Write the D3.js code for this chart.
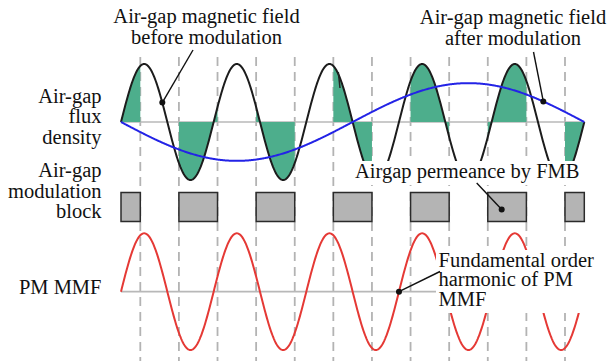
<!DOCTYPE html>
<html><head><meta charset="utf-8">
<script src="https://cdn.jsdelivr.net/npm/d3@7"></script>
<style>html,body{margin:0;padding:0;background:#fff}svg{display:block}</style>
</head><body><svg id="c" width="611" height="363"></svg>
<script>
// ---- data ----
// modulation block (FMB) centres in slot-pitch units, block width as fraction of pitch
const blockCenters = [0, 1, 2, 3, 4, 5, 6];
const blockWidth = 0.5;
// air-gap field before modulation: cycles across span, amplitude
const fieldCycles = 5, fieldAmp = 1.0;
// air-gap permeance (blue): cycles, amplitude (negative start)
const permCycles = 1, permAmp = -0.67;
// PM MMF fundamental
const mmfCycles = 5, mmfAmp = 1.0;
const rowLabels = [["Air-gap", "flux", "density"], ["Air-gap", "modulation", "block"], ["PM MMF"]];

const FONT = "'Liberation Serif', 'Times New Roman', 'DejaVu Serif', serif";
const svg = d3.select("#c");
const span = [0, 6];
const x = d3.scaleLinear().domain(span).range([121, 584.3]);
const yF = d3.scaleLinear().domain([-1, 1]).range([180, 64]);
const yM = d3.scaleLinear().domain([-1, 1]).range([350, 233.3]);
const wave = (cyc, amp) => t => amp * Math.sin(2 * Math.PI * cyc * (t - span[0]) / (span[1] - span[0]));
const fField = wave(fieldCycles, fieldAmp), fPerm = wave(permCycles, permAmp), fMmf = wave(mmfCycles, mmfAmp);
const samples = (a, b, n) => d3.range(n + 1).map(i => a + (b - a) * i / n);

// dashed guides at block edges
const edges = [];
blockCenters.forEach(c => { [c - blockWidth / 2, c + blockWidth / 2].forEach(e => { if (e >= span[0] - 1e-9 && e <= span[1] + 1e-9) edges.push(e); }); });
svg.append("g").selectAll("line").data(edges).join("line")
  .attr("x1", d => x(d)).attr("x2", d => x(d)).attr("y1", 57).attr("y2", 361)
  .attr("stroke", "#b3b3b3").attr("stroke-width", 1.8).attr("stroke-dasharray", "9,6");

// zero lines
[yF, yM].forEach(s => svg.append("line").attr("x1", x(span[0])).attr("x2", x(span[1]))
  .attr("y1", s(0)).attr("y2", s(0)).attr("stroke", "#b8b8b8").attr("stroke-width", 1.6));

// green modulated areas
const area = d3.area().x(d => x(d)).y0(yF(0)).y1(d => yF(fField(d)));
blockCenters.forEach(c => {
  const a = Math.max(span[0], c - blockWidth / 2), b = Math.min(span[1], c + blockWidth / 2);
  svg.append("path").attr("d", area(samples(a, b, 60))).attr("fill", "#4dae8c");
});

const line = (f, s) => d3.line().x(d => x(d)).y(d => s(f(d)));
const pts = samples(span[0], span[1], 600);
svg.append("path").attr("d", line(fField, yF)(pts)).attr("fill", "none").attr("stroke", "#1c1c1c").attr("stroke-width", 2);
svg.append("path").attr("d", line(fPerm, yF)(pts)).attr("fill", "none").attr("stroke", "#2323e6").attr("stroke-width", 2);
svg.append("path").attr("d", line(fMmf, yM)(pts)).attr("fill", "none").attr("stroke", "#e53935").attr("stroke-width", 2);

// blocks
svg.append("g").selectAll("rect").data(blockCenters).join("rect")
  .attr("x", d => x(Math.max(span[0], d - blockWidth / 2)))
  .attr("width", d => x(Math.min(span[1], d + blockWidth / 2)) - x(Math.max(span[0], d - blockWidth / 2)))
  .attr("y", 192.5).attr("height", 29)
  .attr("fill", "#b4b4b4").attr("stroke", "#2b2b2b").attr("stroke-width", 1.5);

// stray mark
svg.append("line").attr("x1", 338.3).attr("y1", 72).attr("x2", 340).attr("y2", 88).attr("stroke", "#222").attr("stroke-width", 1.5);

// white label backgrounds
svg.append("rect").attr("x", 352).attr("y", 161).attr("width", 238).attr("height", 24).attr("fill", "#fff");
svg.append("rect").attr("x", 436).attr("y", 250).attr("width", 175).attr("height", 63).attr("fill", "#fff");

// texts
function lines(arr, xx, y0, dy, anchor) {
  arr.forEach((s, i) => svg.append("text").attr("x", xx).attr("y", y0 + i * dy)
    .attr("text-anchor", anchor).attr("font-family", FONT).attr("font-size", "20.5px").attr("fill", "#111").text(s));
}
lines(["Air-gap magnetic field", "before modulation"], 206.5, 23, 21, "middle");
lines(["Air-gap magnetic field", "after modulation"], 513, 24, 21.3, "middle");
lines(rowLabels[0], 101.5, 103, 20.3, "end");
lines(rowLabels[1], 101.5, 177.3, 20.3, "end");
lines(rowLabels[2], 101.5, 294, 20, "end");
lines(["Airgap permeance by FMB"], 355, 178.3, 20, "start");
lines(["Fundamental order", "harmonic of PM", "MMF"], 438.5, 266.5, 19.8, "start");

// leaders with dots
function leader(x1, y1, t, f, s) {
  const px = x(t), py = s(f(t));
  svg.append("line").attr("x1", x1).attr("y1", y1).attr("x2", px).attr("y2", py).attr("stroke", "#111").attr("stroke-width", 1.4);
  svg.append("circle").attr("cx", px).attr("cy", py).attr("r", 3).attr("fill", "#111");
}
leader(193, 50, x.invert(162.3), fField, yF);
leader(533.5, 52, x.invert(543.3), fPerm, yF);
leader(440, 271.5, 3.6, fMmf, yM);
// permeance leader to block
svg.append("line").attr("x1", 476.7).attr("y1", 183).attr("x2", 501.7).attr("y2", 209.5).attr("stroke", "#111").attr("stroke-width", 1.4);
svg.append("circle").attr("cx", 501.7).attr("cy", 209.5).attr("r", 3).attr("fill", "#111");
</script></body></html>
